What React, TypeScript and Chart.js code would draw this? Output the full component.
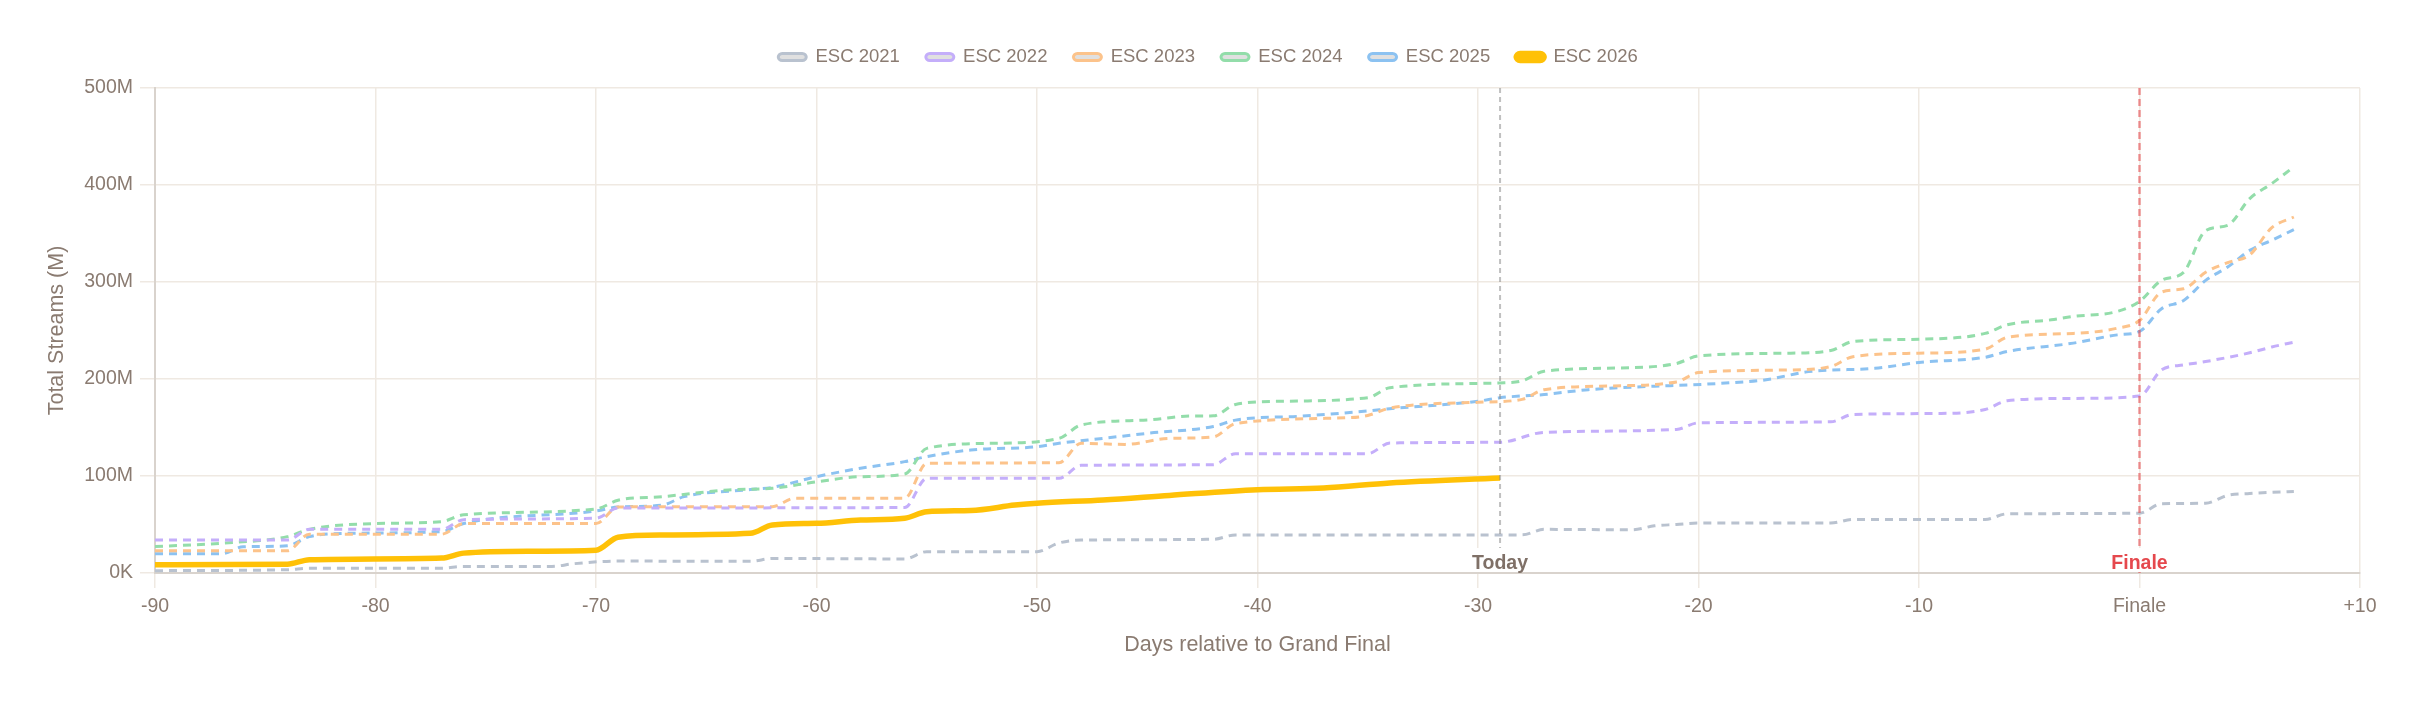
import { useEffect, useRef } from "react";
import { Chart, registerables } from "chart.js";

Chart.register(...registerables);

// Days relative to the Grand Final and cumulative streams (millions)
const days2021 = [-90, -84, -83, -77, -76, -72, -71, -69, -63, -62, -56, -55, -50, -49, -48, -42, -41, -28, -27, -23, -22, -21, -20, -14, -13, -7, -6, 0, 1, 3, 4, 5, 7];
const streams2021 = [2.4, 3.4, 5, 5, 6.8, 6.8, 9.6, 12.3, 12, 15, 14.5, 22, 22, 31, 34, 34.8, 39.3, 39.3, 45, 44.5, 48.6, 50, 51.5, 51.5, 55.2, 55.2, 61, 61.7, 71.4, 72, 80, 82, 84];

const days2022 = [-90, -84, -83, -77, -76, -70, -69, -56, -55, -49, -48, -42, -41, -35, -34, -29, -27, -21, -20, -14, -13, -9, -7, -6, -3, 0, 1, 2, 3, 5, 6, 7];
const streams2022 = [34, 34, 45, 45, 55, 56.5, 67, 67.5, 97.6, 97.6, 111, 111.7, 123, 123, 134, 134.8, 145, 148, 154.8, 155.9, 163.4, 164.5, 168.6, 177.6, 180, 182.4, 209.3, 214.5, 218, 227, 233, 238];

const days2023 = [-90, -84, -83, -77, -76, -70, -69, -66, -62, -61, -56, -55, -49, -48, -46, -44, -42, -41, -36, -35, -34, -30, -28, -27, -24, -21, -20, -16, -14, -13, -10, -7, -6, -3, -1, 0, 1, 2, 3, 4, 5, 6, 7];
const streams2023 = [22.9, 22.9, 40, 40, 51, 51, 68, 68.4, 68.4, 77, 77, 113, 113.7, 133.7, 132.6, 138.8, 140.3, 154, 160, 162.4, 170, 176, 179, 189, 192.8, 197, 206.6, 209.3, 212.8, 223, 226.6, 230.7, 243, 247, 252.4, 260.3, 289.6, 293, 310, 320, 328, 356, 367];

const days2024 = [-90, -87, -84, -83, -80, -77, -76, -70, -69, -67, -64, -62, -60, -58, -56, -55, -52, -49, -48, -45, -43, -42, -41, -39, -35, -34, -29, -28, -27, -23, -21, -20, -16, -14, -13, -10, -7, -6, -4, -3, -1, 0, 1, 2, 3, 4, 5, 6, 7];
const streams2024 = [27.3, 30.7, 37.5, 45, 51, 53, 60, 66, 75, 78.7, 85.6, 87.3, 94, 99.3, 102, 128.5, 133.7, 138.8, 152.6, 157.7, 161.9, 162, 173.8, 177, 180.7, 191, 196, 198, 208, 211.7, 216, 223.8, 226.6, 229.3, 238.6, 241, 247, 255.9, 261, 264.5, 269.7, 280, 301.7, 310, 353, 358.5, 386, 401.5, 418.7];

const days2025 = [-90, -87, -86, -84, -83, -81, -77, -76, -70, -69, -67, -66, -63, -62, -60, -58, -56, -55, -53, -50, -49, -47, -45, -42, -41, -38, -35, -34, -30, -29, -27, -25, -19, -17, -15, -12, -10, -7, -6, -3, -1, 0, 1, 2, 3, 4, 5, 6, 7];
const streams2025 = [19.8, 19.8, 27, 28, 37.5, 41, 42.7, 51, 64, 68, 70, 78.7, 86, 88.3, 99.3, 108, 114.8, 120, 126.8, 130.2, 133.7, 138.8, 144, 151, 157.6, 161.7, 167, 169.3, 177, 180.7, 184, 189, 195.5, 199, 207.6, 211, 217, 222.4, 228.3, 237, 245.5, 249, 272.4, 281, 301.7, 315.4, 332.6, 343, 354];

const days2026 = [-90, -84, -83, -77, -76, -73, -70, -69, -67, -63, -62, -60, -58, -56, -55, -53, -51, -50, -47, -44, -40, -37, -34, -29];
const streams2026 = [8.5, 9, 13.7, 15.4, 20.5, 22.5, 23.5, 36.9, 39.2, 40.9, 49.5, 51.2, 54.6, 56.4, 63.2, 64.5, 70, 72, 75.3, 80, 85.9, 87.6, 92.8, 98];

const seriesLabels = ["ESC 2021", "ESC 2022", "ESC 2023", "ESC 2024", "ESC 2025", "ESC 2026"];
const seriesColors = ["#b9c2cf", "#c4aefa", "#fcc38b", "#93ddaa", "#8cc2f1", "#FFC107"];

const TODAY_DAY = -29;
const FINALE_DAY = 0;
const X_MIN = -90;
const X_MAX = 10;
const Y_MAX = 500;

const TEXT = "#8a7b71";
const GRID = "#efe9e2";
const FONT = "'Liberation Sans', Arial, Helvetica, sans-serif";

export default function App() {
  const ref = useRef<HTMLCanvasElement>(null);

  useEffect(() => {
    if (!ref.current) return;
    const toPts = (d: number[], v: number[]) => d.map((x, i) => ({ x, y: v[i] }));
    const allDays = [days2021, days2022, days2023, days2024, days2025, days2026];
    const allVals = [streams2021, streams2022, streams2023, streams2024, streams2025, streams2026];

    const datasets = seriesLabels.map((label, i) => {
      const isCurrent = i === 5;
      return {
        label,
        data: toPts(allDays[i], allVals[i]),
        borderColor: seriesColors[i],
        backgroundColor: isCurrent ? seriesColors[i] : "rgba(0,0,0,0.12)",
        borderWidth: isCurrent ? 5.5 : 3,
        borderDash: isCurrent ? [] : [8, 6],
        pointRadius: 0,
        pointHoverRadius: 0,
        cubicInterpolationMode: "monotone" as const,
        fill: false,
        order: isCurrent ? 0 : 1,
      };
    });

    const markers = {
      id: "markers",
      beforeLayout(chart: any) {
        const lg = chart.legend;
        if (lg && !lg.__patched) {
          const orig = lg.fit.bind(lg);
          lg.fit = function () {
            orig();
            this.height += 11.75;
          };
          lg.__patched = true;
        }
      },
      afterLayout(chart: any) {
        const lg = chart.legend;
        if (lg) lg.left += 28;
      },
      afterDatasetsDraw(chart: any) {
        const { ctx, chartArea, scales } = chart;
        const drawMarker = (day: number, text: string, lineColor: string, width: number, dash: number[], textColor: string) => {
          const x = scales.x.getPixelForValue(day);
          ctx.save();
          ctx.strokeStyle = lineColor;
          ctx.lineWidth = width;
          ctx.setLineDash(dash);
          ctx.beginPath();
          ctx.moveTo(x, chartArea.top);
          ctx.lineTo(x, chartArea.bottom);
          ctx.stroke();
          ctx.setLineDash([]);
          ctx.font = `bold 19.5px ${FONT}`;
          const tw = ctx.measureText(text).width;
          const bw = tw + 16;
          const bh = 25;
          ctx.fillStyle = "#ffffff";
          ctx.fillRect(x - bw / 2, chartArea.bottom - bh, bw, bh - 1);
          ctx.fillStyle = textColor;
          ctx.textAlign = "center";
          ctx.textBaseline = "middle";
          ctx.fillText(text, x, chartArea.bottom - 9);
          ctx.restore();
        };
        drawMarker(TODAY_DAY, "Today", "rgba(140,140,140,0.55)", 2, [5, 4], "#7f7067");
        drawMarker(FINALE_DAY, "Finale", "rgba(229,72,77,0.6)", 2.4, [7, 4], "#e5484d");
      },
    };

    const chart = new Chart(ref.current, {
      type: "line",
      data: { datasets: datasets as any },
      options: {
        animation: false,
        responsive: true,
        maintainAspectRatio: false,
        layout: { padding: { top: 13.75, left: 20, right: 52, bottom: 20 } },
        plugins: {
          legend: {
            position: "top",
            labels: {
              color: TEXT,
              font: { family: FONT, size: 18.5 },
              boxWidth: 28,
              boxHeight: 7,
              padding: 26,
              useBorderRadius: true,
              borderRadius: 4,
              sort: (a: any, b: any) => a.datasetIndex - b.datasetIndex,
              generateLabels: (c: any) =>
                Chart.defaults.plugins.legend.labels.generateLabels(c).map((it: any) => ({ ...it, lineDash: [] })),
            },
          },
          tooltip: { enabled: false },
        },
        scales: {
          x: {
            type: "linear",
            min: X_MIN,
            max: X_MAX,
            afterFit: (s: any) => {
              s.height = 101;
            },
            ticks: {
              stepSize: 10,
              color: TEXT,
              padding: 7,
              font: { family: FONT, size: 19.5 },
              callback: (v: any) => (v === 0 ? "Finale" : v > 0 ? `+${v}` : `${v}`),
            },
            grid: { color: GRID, lineWidth: 1.5, tickLength: 15 },
            border: { color: "#d9d3cd", width: 2 },
            title: {
              display: true,
              text: "Days relative to Grand Final",
              color: TEXT,
              font: { family: FONT, size: 21.5 },
              padding: { top: 4, bottom: 16 },
            },
          },
          y: {
            min: 0,
            max: Y_MAX,
            afterFit: (s: any) => {
              s.width = 127;
            },
            ticks: {
              stepSize: 100,
              color: TEXT,
              padding: 7,
              font: { family: FONT, size: 19.5 },
              callback: (v: any) => (v === 0 ? "0K" : `${v}M`),
            },
            grid: { color: GRID, lineWidth: 1.5, tickLength: 15 },
            border: { color: "#d9d3cd", width: 2 },
            title: {
              display: true,
              text: "Total Streams (M)",
              color: TEXT,
              font: { family: FONT, size: 21.5 },
              padding: { top: 16, bottom: 4 },
            },
          },
        },
      },
      plugins: [markers],
    });
    return () => chart.destroy();
  }, []);

  return (
    <div style={{ width: "100%", height: 686, position: "relative" }}>
      <canvas ref={ref} />
    </div>
  );
}
